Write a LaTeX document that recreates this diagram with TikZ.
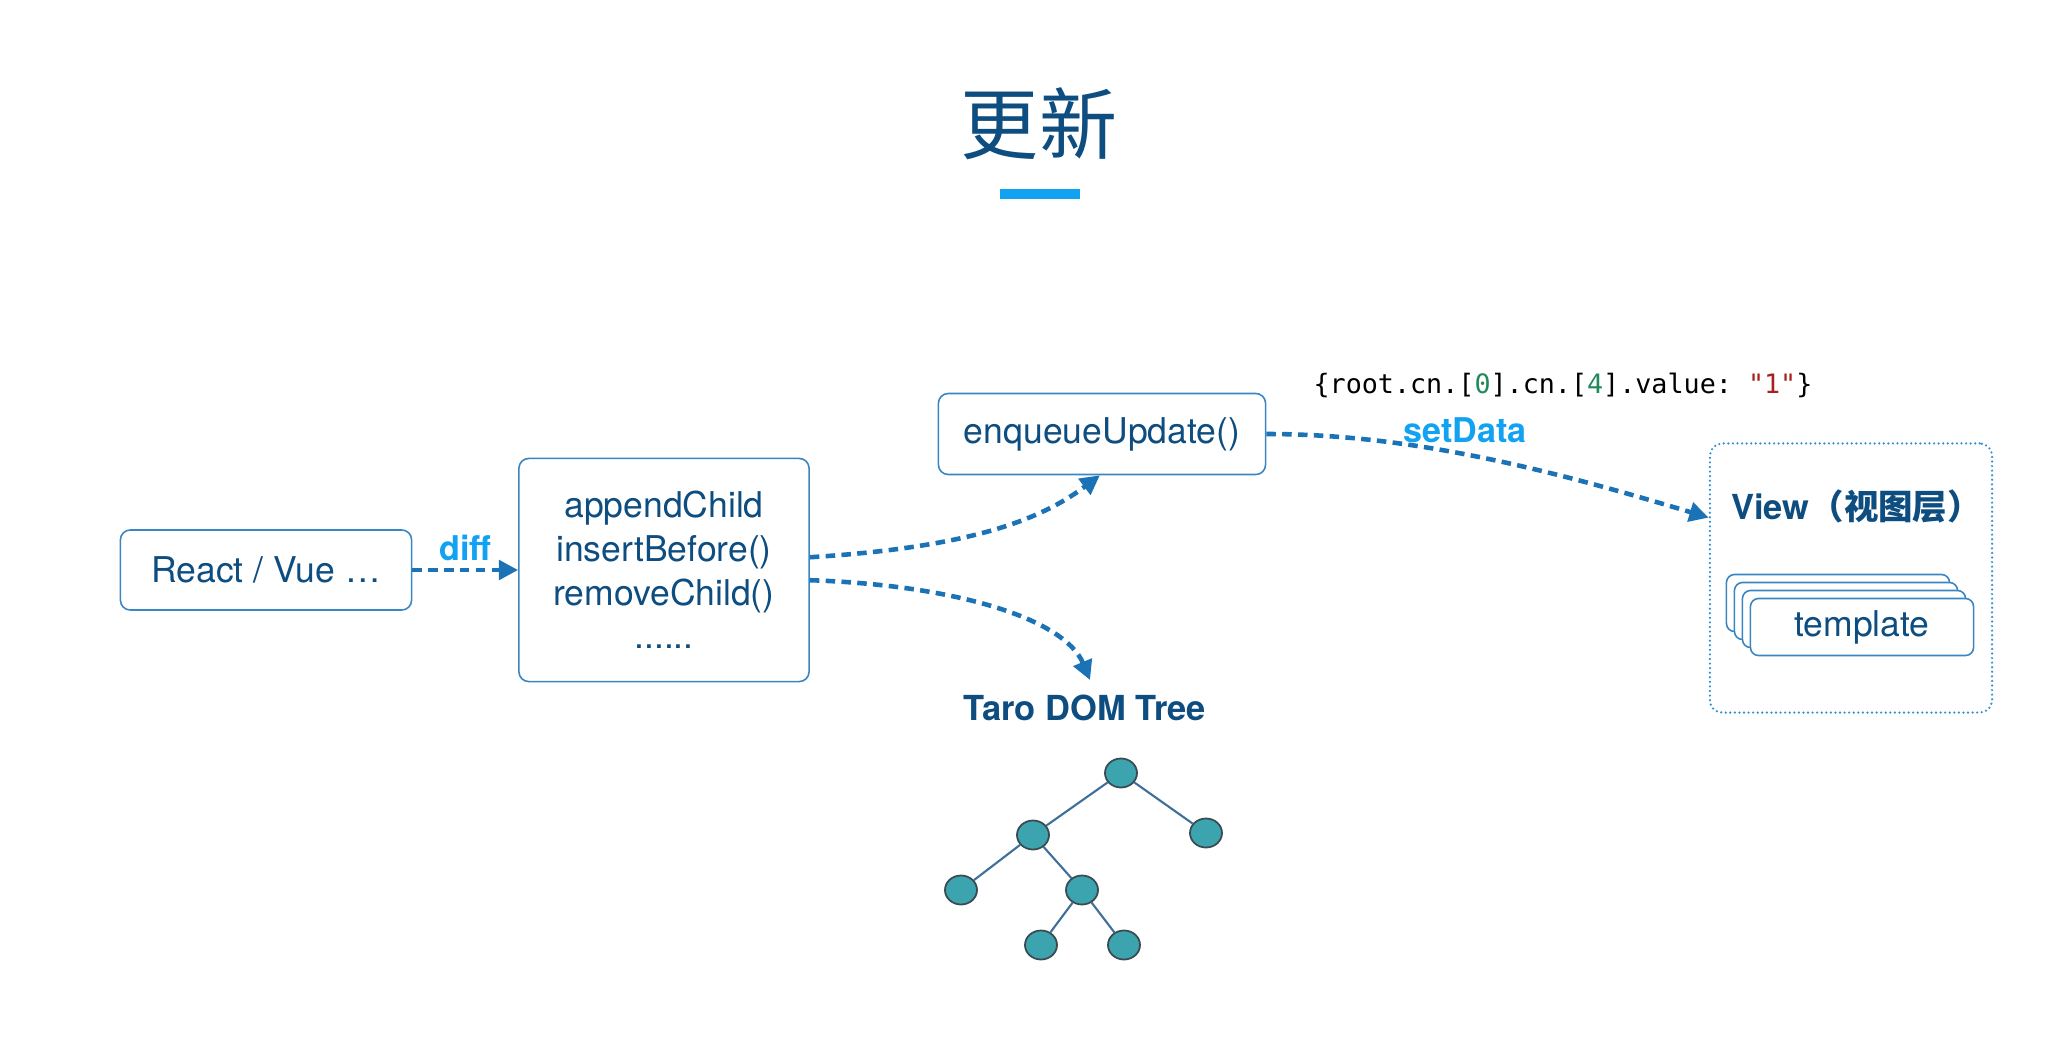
\documentclass[tikz,border=0pt]{standalone}
\usepackage{fontspec}
\setmainfont{TeX Gyre Heros}
\setmonofont{DejaVu Sans Mono}
\newfontfamily\cjk{Noto Sans CJK SC}
\usetikzlibrary{arrows.meta,positioning,shapes.geometric}

\definecolor{navy}{HTML}{0E4D80}
\definecolor{boxblue}{HTML}{3A86C2}
\definecolor{arrowblue}{HTML}{1B72B5}
\definecolor{lightblue}{HTML}{12A2F2}
\definecolor{dotblue}{HTML}{2F90D6}
\definecolor{treeedge}{HTML}{3F6F9B}
\definecolor{treefill}{HTML}{3BA4AF}
\definecolor{treerim}{HTML}{3A4A50}
\definecolor{codegreen}{HTML}{23895B}
\definecolor{codered}{HTML}{A5221E}

\tikzset{
    fnbox/.style={draw=boxblue, line width=0.45pt, rounded corners=2.8pt, fill=white,
        text=navy, font=\fontsize{10.1pt}{12.4pt}\selectfont, align=center, inner sep=0pt},
    flow/.style={draw=arrowblue, line width=1.3pt, dash pattern=on 2.7pt off 1.8pt,
        -{Triangle[length=5.5pt,width=5.5pt]}},
    tag/.style={text=lightblue, font=\bfseries\fontsize{9.7pt}{11pt}\selectfont, inner sep=1pt},
    heading/.style={text=navy, font=\bfseries\fontsize{9.8pt}{11pt}\selectfont, inner sep=1pt},
    treenode/.style={ellipse, draw=treerim, fill=treefill, line width=0.5pt,
        minimum width=0.32cm, minimum height=0.29cm, inner sep=0pt},
    treeline/.style={draw=treeedge, line width=0.6pt}
}

\begin{document}
\begin{tikzpicture}[x=0.01cm, y=-0.01cm]
    % Page
    \fill[white] (0,0) rectangle (2068,1048);

    % Title
    \node[text=navy, font=\cjk\fontsize{22.2pt}{26pt}\selectfont] (title) at (1039,124) {更新};
    \node[fill=lightblue, minimum width=0.79cm, minimum height=0.105cm, inner sep=0pt] (bar) at (1040,194) {};

    % Draw boxes
    \node[fnbox, minimum width=2.91cm, minimum height=0.80cm] (react) at (266,570) {React / Vue …};
    \node[fnbox, minimum width=2.90cm, minimum height=2.23cm] (ops) at (664,570)
        {appendChild\\insertBefore()\\removeChild()\\......};
    \node[fnbox, minimum width=3.27cm, minimum height=0.81cm] (enqueue) at (1102,434) {enqueueUpdate()};

    % Data sent by setData
    \node[font=\ttfamily\fontsize{7.6pt}{9pt}\selectfont] (payload) at (1563,385)
        {\{root.cn.[\textcolor{codegreen}{0}].cn.[\textcolor{codegreen}{4}].value: \textcolor{codered}{"1"}\}};
    \node[tag] (setdata) at (1465,430) {setData};

    % View layer
    \node[draw=dotblue, line width=0.7pt, dash pattern=on 0pt off 1.3pt, line cap=round,
        rounded corners=3.5pt, minimum width=2.82cm, minimum height=2.69cm] (view) at (1851,578) {};
    \node[heading, anchor=west] (viewtitle) at (1727,506) {View{\cjk （视图层）}};
    \foreach \i in {3,2,1}
        \node[fnbox, rounded corners=2.3pt, minimum width=2.23cm, minimum height=0.57cm] (tpl\i) at (1862-8*\i,627-8*\i) {};
    \node[fnbox, rounded corners=2.3pt, minimum width=2.23cm, minimum height=0.57cm] (tpl0) at (1862,627) {template};

    % Taro DOM tree
    \node[heading] (domtitle) at (1085,708) {Taro DOM Tree};
    \coordinate (domin) at (1090,680);
    \node[treenode] (root) at (1121,773) {};
    \node[treenode] (left) at (1033,835) {};
    \node[treenode] (right) at (1206,833) {};
    \node[treenode] (leftleaf) at (961,890) {};
    \node[treenode] (mid) at (1082,890) {};
    \node[treenode] (midleft) at (1041,945) {};
    \node[treenode] (midright) at (1124,945) {};
    \draw[treeline] (root) -- (left);
    \draw[treeline] (root) -- (right);
    \draw[treeline] (left) -- (leftleaf);
    \draw[treeline] (left) -- (mid);
    \draw[treeline] (mid) -- (midleft);
    \draw[treeline] (mid) -- (midright);

    % Add dashed arrows
    \draw[flow] (react) -- node[tag, above=1pt] {diff} (ops);
    \draw[flow] (ops.5) .. controls +(160,-10) and +(-60,45) .. (enqueue.-93);
    \draw[flow] (ops.-4) .. controls +(150,5) and +(-25,-60) .. (domin);
    \draw[flow] (enqueue.east) .. controls +(150,0) and +(-150,-45) .. (view.157);
\end{tikzpicture}
\end{document}
